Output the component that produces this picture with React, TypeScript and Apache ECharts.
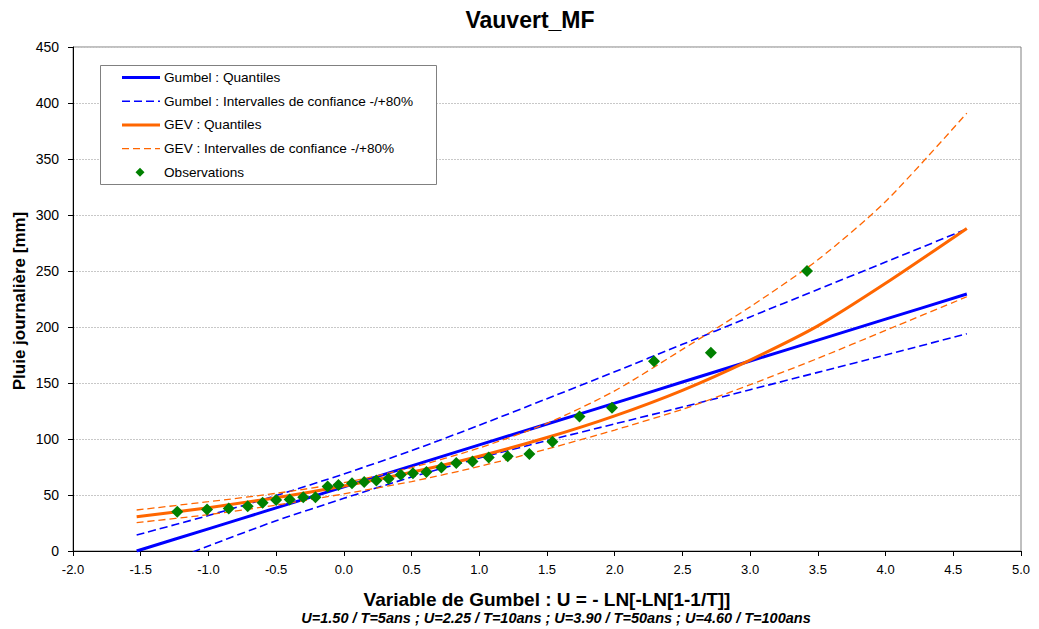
import React, { useEffect, useRef } from "react";
import * as echarts from "echarts";

// Gumbel reduced variate grid used for the fitted curves
const U_GRID = [-1.53, -1, -0.5, 0, 0.5, 1, 1.5, 2, 2.5, 3, 3.5, 4, 4.6];

// Gumbel fit
const GUMBEL_Q = [0, 19.8, 38.5, 57.2, 76, 94.7, 113.4, 132, 150.9, 169.6, 188.3, 207, 229.5];
const GUMBEL_UP = [14.3, 31.7, 49.5, 68.8, 89.6, 112.3, 136, 160, 184.5, 209, 233.5, 258, 287.5];
const GUMBEL_LOW = [-20.5, 4.4, 27, 47, 66, 83, 98.5, 113.5, 128.5, 144, 159.5, 175, 194];

// GEV fit
const GEV_Q = [30.6, 38.7, 47.6, 58.1, 70.3, 84.6, 101.3, 120.7, 143.5, 170.5, 201, 239, 288];
const GEV_UP = [36.6, 44, 51.5, 61, 74.5, 92, 114, 143, 180, 218, 260, 312, 391];
const GEV_LOW = [25.3, 32.5, 41, 51, 62, 75.5, 91, 108, 126.5, 148.5, 172, 197, 227];

// Observations (Gumbel variate, daily rainfall mm)
const OBS_U = [-1.23, -1.01, -0.85, -0.71, -0.6, -0.5, -0.4, -0.3, -0.21, -0.12, -0.04, 0.06, 0.15, 0.24, 0.33, 0.42, 0.51, 0.61, 0.72, 0.83, 0.95, 1.07, 1.21, 1.37, 1.54, 1.74, 1.98, 2.29, 2.71, 3.42];
const OBS_P = [35, 37, 38, 40, 43, 45.5, 46, 48, 48, 57.5, 59, 60.5, 61.5, 63, 64.5, 68, 69.5, 70.5, 74.5, 78.5, 80, 83.5, 84.5, 86.5, 97.5, 120, 128, 169.5, 177, 250];

const LEGEND_NAMES = [
  "Gumbel : Quantiles",
  "Gumbel : Intervalles de confiance -/+80%",
  "GEV : Quantiles",
  "GEV : Intervalles de confiance -/+80%",
  "Observations",
];

const TITLE = "Vauvert_MF";
const X_NAME = "Variable de Gumbel : U = - LN[-LN[1-1/T]]";
const X_SUB = "U=1.50 / T=5ans ; U=2.25 / T=10ans ; U=3.90 / T=50ans ; U=4.60 / T=100ans";
const Y_NAME = "Pluie journalière [mm]";

const BLUE = "#0000ff";
const ORANGE = "#ff6600";
const GREEN = "#008000";
const FONT = "Liberation Sans, Arial, sans-serif";

function pairs(xs: number[], ys: number[]) {
  return xs.map((x, i) => [x, ys[i]]);
}

export default function App() {
  const ref = useRef<HTMLDivElement>(null);
  useEffect(() => {
    const chart = echarts.init(ref.current!, null, { renderer: "svg" });

    const lineSeries = (name: string, data: number[][], color: string, width: number, dash: any) => ({
      type: "line",
      name,
      data,
      showSymbol: false,
      symbol: "none",
      smooth: 0.25,
      clip: true,
      lineStyle: { color, width, type: dash },
      itemStyle: { color },
      z: 2,
    });

    const legendX = 100, legendY = 65, rowY0 = 77.5, rowGap = 23.7;
    const legendGraphics: any[] = [
      {
        type: "rect",
        shape: { x: legendX + 0.5, y: legendY + 0.5, width: 336, height: 119 },
        style: { fill: "#fff", stroke: "#808080", lineWidth: 1 },
        z: 10,
      },
    ];
    const legendStyles = [
      { color: BLUE, width: 3, dash: null },
      { color: BLUE, width: 1.6, dash: [8, 4] },
      { color: ORANGE, width: 3, dash: null },
      { color: ORANGE, width: 1.3, dash: [7, 4] },
    ];
    LEGEND_NAMES.forEach((n, i) => {
      const y = rowY0 + i * rowGap;
      if (i < 4) {
        const s = legendStyles[i];
        legendGraphics.push({
          type: "line",
          shape: { x1: 122, y1: y, x2: 160, y2: y },
          style: { stroke: s.color, lineWidth: s.width, lineDash: s.dash },
          z: 11,
        });
      } else {
        legendGraphics.push({
          type: "polygon",
          shape: { points: [[140, y - 4.5], [144.5, y], [140, y + 4.5], [135.5, y]] },
          style: { fill: GREEN },
          z: 11,
        });
      }
      legendGraphics.push({
        type: "text",
        x: 164,
        y,
        style: { text: n, font: `13.6px ${FONT}`, fill: "#000", textVerticalAlign: "middle", textAlign: "left" },
        z: 11,
      });
    });

    chart.setOption({
      animation: false,
      backgroundColor: "#fff",
      grid: {
        left: 73,
        right: 18,
        top: 47,
        bottom: 78,
        show: true,
        borderColor: "#808080",
        borderWidth: 1,
        backgroundColor: "transparent",
      },
      xAxis: {
        type: "value",
        min: -2,
        max: 5,
        interval: 0.5,
        axisLine: { show: true, onZero: false, lineStyle: { color: "#000", width: 1 } },
        axisTick: { show: true, length: 5, lineStyle: { color: "#000" } },
        axisLabel: {
          margin: 12,
          color: "#000",
          fontSize: 13,
          fontFamily: FONT,
          formatter: (v: number) => v.toFixed(1),
        },
        splitLine: { show: false },
      },
      yAxis: {
        type: "value",
        min: 0,
        max: 450,
        interval: 50,
        axisLine: { show: true, onZero: false, lineStyle: { color: "#000", width: 1 } },
        axisTick: { show: true, length: 5, lineStyle: { color: "#000" } },
        axisLabel: { margin: 14, color: "#000", fontSize: 14, fontFamily: FONT },
        splitLine: { show: true, lineStyle: { color: "#c8c8c8", width: 1, type: [2, 1] } },
      },
      graphic: [
        {
          type: "text",
          x: 530,
          y: 20,
          style: { text: TITLE, font: `bold 23px ${FONT}`, fill: "#000", textAlign: "center", textVerticalAlign: "middle" },
        },
        {
          type: "text",
          x: 547,
          y: 599,
          style: { text: X_NAME, font: `bold 19px ${FONT}`, fill: "#000", textAlign: "center", textVerticalAlign: "middle" },
        },
        {
          type: "text",
          x: 556,
          y: 618,
          style: { text: X_SUB, font: `italic bold 14.5px ${FONT}`, fill: "#000", textAlign: "center", textVerticalAlign: "middle" },
        },
        {
          type: "text",
          x: 19,
          y: 301,
          rotation: Math.PI / 2,
          style: { text: Y_NAME, font: `bold 17px ${FONT}`, fill: "#000", textAlign: "center", textVerticalAlign: "middle" },
        },
        ...legendGraphics,
      ],
      series: [
        lineSeries(LEGEND_NAMES[0], pairs(U_GRID, GUMBEL_Q), BLUE, 3, "solid"),
        lineSeries(LEGEND_NAMES[1], pairs(U_GRID, GUMBEL_UP), BLUE, 1.6, [8, 4]),
        lineSeries(LEGEND_NAMES[1] + " ", pairs(U_GRID, GUMBEL_LOW), BLUE, 1.6, [8, 4]),
        lineSeries(LEGEND_NAMES[2], pairs(U_GRID, GEV_Q), ORANGE, 3, "solid"),
        lineSeries(LEGEND_NAMES[3], pairs(U_GRID, GEV_UP), ORANGE, 1.3, [7, 4]),
        lineSeries(LEGEND_NAMES[3] + " ", pairs(U_GRID, GEV_LOW), ORANGE, 1.3, [7, 4]),
        {
          type: "scatter",
          name: LEGEND_NAMES[4],
          data: pairs(OBS_U, OBS_P),
          symbol: "diamond",
          symbolSize: 12,
          itemStyle: { color: GREEN, opacity: 1 },
          z: 5,
        },
      ],
    });
    return () => chart.dispose();
  }, []);
  return (
    <div
      ref={ref}
      style={{ position: "fixed", left: 0, top: 0, width: 1039, height: 629, background: "#fff" }}
    />
  );
}
